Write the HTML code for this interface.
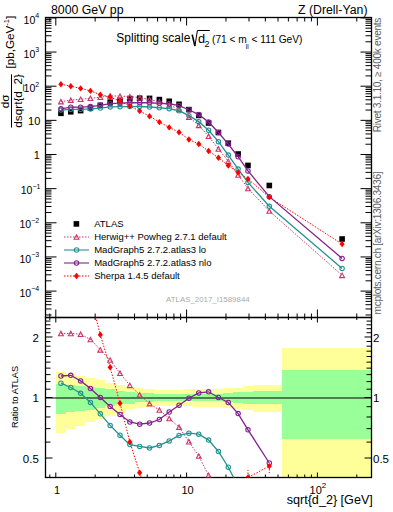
<!DOCTYPE html><html><head><meta charset="utf-8"><style>html,body{margin:0;padding:0;background:#fff;}svg{display:block}</style></head><body>
<svg width="393" height="512" viewBox="0 0 393 512" font-family="'Liberation Sans', sans-serif">
<defs>
<clipPath id="cu"><rect x="45.5" y="17.5" width="326.0" height="300.0"/></clipPath>
<clipPath id="cr"><rect x="45.5" y="317.5" width="326.0" height="160.0"/></clipPath>
</defs>
<rect width="393" height="512" fill="#fff"/>
<g clip-path="url(#cr)"><path d="M55.80,372.34H65.64V432.98H55.80ZM65.64,374.26H75.49V429.26H65.64ZM75.49,375.95H85.33V426.18H75.49ZM85.33,378.37H95.18V422.03H85.33ZM95.18,380.43H105.02V418.74H95.18ZM105.02,382.54H114.86V415.57H105.02ZM114.86,384.54H124.71V412.72H114.86ZM124.71,387.22H134.55V409.16H124.71ZM134.55,388.39H144.40V407.67H134.55ZM144.40,389.18H154.24V406.70H144.40ZM154.24,389.66H164.08V406.12H154.24ZM164.08,389.82H173.93V405.92H164.08ZM173.93,389.74H183.77V406.02H173.93ZM183.77,389.42H193.62V406.41H183.77ZM193.62,389.26H203.46V406.60H193.62ZM203.46,389.10H213.30V406.79H203.46ZM213.30,388.63H223.15V407.38H213.30ZM223.15,388.39H232.99V407.67H223.15ZM232.99,387.61H242.84V408.66H232.99ZM242.84,386.45H252.68V410.16H242.84ZM252.68,384.77H281.80V412.41H252.68ZM281.80,348.25H371.50V502.60H281.80Z" fill="#ffff99" shape-rendering="crispEdges"/><path d="M55.80,383.79H65.64V413.77H55.80ZM65.64,384.92H75.49V412.20H65.64ZM75.49,385.68H85.33V411.17H75.49ZM85.33,386.60H95.18V409.96H85.33ZM95.18,388.15H105.02V407.97H95.18ZM105.02,389.42H114.86V406.41H105.02ZM114.86,391.19H124.71V404.31H114.86ZM124.71,391.59H134.55V403.83H124.71ZM134.55,392.83H144.40V402.44H134.55ZM144.40,393.41H154.24V401.79H144.40ZM154.24,393.74H164.08V401.43H154.24ZM164.08,393.91H173.93V401.25H164.08ZM173.93,393.91H183.77V401.25H173.93ZM183.77,393.82H193.62V401.34H183.77ZM193.62,393.82H203.46V401.34H193.62ZM203.46,393.74H213.30V401.43H203.46ZM213.30,393.74H223.15V401.43H213.30ZM223.15,393.24H232.99V401.98H223.15ZM232.99,392.41H242.84V402.90H232.99ZM242.84,391.59H252.68V403.83H242.84ZM252.68,391.43H281.80V404.02H252.68ZM281.80,369.51H371.50V438.95H281.80Z" fill="#99ff99" shape-rendering="crispEdges"/>
<path d="M45.5,398H371.5" stroke="#000" stroke-width="1"/></g>
<path d="M45.5,314.97h6M371.5,314.97h-6M45.5,308.96h6M371.5,308.96h-6M45.5,304.69h6M371.5,304.69h-6M45.5,301.38h6M371.5,301.38h-6M45.5,298.68h6M371.5,298.68h-6M45.5,296.39h6M371.5,296.39h-6M45.5,294.41h6M371.5,294.41h-6M45.5,292.66h6M371.5,292.66h-6M45.5,291.10h11M371.5,291.10h-11M45.5,280.82h6M371.5,280.82h-6M45.5,274.81h6M371.5,274.81h-6M45.5,270.54h6M371.5,270.54h-6M45.5,267.23h6M371.5,267.23h-6M45.5,264.53h6M371.5,264.53h-6M45.5,262.24h6M371.5,262.24h-6M45.5,260.26h6M371.5,260.26h-6M45.5,258.51h6M371.5,258.51h-6M45.5,256.95h11M371.5,256.95h-11M45.5,246.67h6M371.5,246.67h-6M45.5,240.66h6M371.5,240.66h-6M45.5,236.39h6M371.5,236.39h-6M45.5,233.08h6M371.5,233.08h-6M45.5,230.38h6M371.5,230.38h-6M45.5,228.09h6M371.5,228.09h-6M45.5,226.11h6M371.5,226.11h-6M45.5,224.36h6M371.5,224.36h-6M45.5,222.80h11M371.5,222.80h-11M45.5,212.52h6M371.5,212.52h-6M45.5,206.51h6M371.5,206.51h-6M45.5,202.24h6M371.5,202.24h-6M45.5,198.93h6M371.5,198.93h-6M45.5,196.23h6M371.5,196.23h-6M45.5,193.94h6M371.5,193.94h-6M45.5,191.96h6M371.5,191.96h-6M45.5,190.21h6M371.5,190.21h-6M45.5,188.65h11M371.5,188.65h-11M45.5,178.37h6M371.5,178.37h-6M45.5,172.36h6M371.5,172.36h-6M45.5,168.09h6M371.5,168.09h-6M45.5,164.78h6M371.5,164.78h-6M45.5,162.08h6M371.5,162.08h-6M45.5,159.79h6M371.5,159.79h-6M45.5,157.81h6M371.5,157.81h-6M45.5,156.06h6M371.5,156.06h-6M45.5,154.50h11M371.5,154.50h-11M45.5,144.22h6M371.5,144.22h-6M45.5,138.21h6M371.5,138.21h-6M45.5,133.94h6M371.5,133.94h-6M45.5,130.63h6M371.5,130.63h-6M45.5,127.93h6M371.5,127.93h-6M45.5,125.64h6M371.5,125.64h-6M45.5,123.66h6M371.5,123.66h-6M45.5,121.91h6M371.5,121.91h-6M45.5,120.35h11M371.5,120.35h-11M45.5,110.07h6M371.5,110.07h-6M45.5,104.06h6M371.5,104.06h-6M45.5,99.79h6M371.5,99.79h-6M45.5,96.48h6M371.5,96.48h-6M45.5,93.78h6M371.5,93.78h-6M45.5,91.49h6M371.5,91.49h-6M45.5,89.51h6M371.5,89.51h-6M45.5,87.76h6M371.5,87.76h-6M45.5,86.20h11M371.5,86.20h-11M45.5,75.92h6M371.5,75.92h-6M45.5,69.91h6M371.5,69.91h-6M45.5,65.64h6M371.5,65.64h-6M45.5,62.33h6M371.5,62.33h-6M45.5,59.63h6M371.5,59.63h-6M45.5,57.34h6M371.5,57.34h-6M45.5,55.36h6M371.5,55.36h-6M45.5,53.61h6M371.5,53.61h-6M45.5,52.05h11M371.5,52.05h-11M45.5,41.77h6M371.5,41.77h-6M45.5,35.76h6M371.5,35.76h-6M45.5,31.49h6M371.5,31.49h-6M45.5,28.18h6M371.5,28.18h-6M45.5,25.48h6M371.5,25.48h-6M45.5,23.19h6M371.5,23.19h-6M45.5,21.21h6M371.5,21.21h-6M45.5,19.46h6M371.5,19.46h-6M45.5,17.90h11M371.5,17.90h-11M49.81,17.5v4M49.81,317.5v-4M49.81,317.5v2.5M49.81,477.5v-3M55.80,17.5v8M55.80,317.5v-8M55.80,317.5v5M55.80,477.5v-5M95.17,17.5v4M95.17,317.5v-4M95.17,317.5v2.5M95.17,477.5v-3M118.21,17.5v4M118.21,317.5v-4M118.21,317.5v2.5M118.21,477.5v-3M134.55,17.5v4M134.55,317.5v-4M134.55,317.5v2.5M134.55,477.5v-3M147.23,17.5v4M147.23,317.5v-4M147.23,317.5v2.5M147.23,477.5v-3M157.58,17.5v4M157.58,317.5v-4M157.58,317.5v2.5M157.58,477.5v-3M166.34,17.5v4M166.34,317.5v-4M166.34,317.5v2.5M166.34,477.5v-3M173.92,17.5v4M173.92,317.5v-4M173.92,317.5v2.5M173.92,477.5v-3M180.61,17.5v4M180.61,317.5v-4M180.61,317.5v2.5M180.61,477.5v-3M186.60,17.5v8M186.60,317.5v-8M186.60,317.5v5M186.60,477.5v-5M225.97,17.5v4M225.97,317.5v-4M225.97,317.5v2.5M225.97,477.5v-3M249.01,17.5v4M249.01,317.5v-4M249.01,317.5v2.5M249.01,477.5v-3M265.35,17.5v4M265.35,317.5v-4M265.35,317.5v2.5M265.35,477.5v-3M278.03,17.5v4M278.03,317.5v-4M278.03,317.5v2.5M278.03,477.5v-3M288.38,17.5v4M288.38,317.5v-4M288.38,317.5v2.5M288.38,477.5v-3M297.14,17.5v4M297.14,317.5v-4M297.14,317.5v2.5M297.14,477.5v-3M304.72,17.5v4M304.72,317.5v-4M304.72,317.5v2.5M304.72,477.5v-3M311.41,17.5v4M311.41,317.5v-4M311.41,317.5v2.5M311.41,477.5v-3M317.40,17.5v8M317.40,317.5v-8M317.40,317.5v5M317.40,477.5v-5M356.77,17.5v4M356.77,317.5v-4M356.77,317.5v2.5M356.77,477.5v-3M45.5,477.49h5M371.5,477.49h-5M45.5,458.01h7M371.5,458.01h-7M45.5,442.09h5M371.5,442.09h-5M45.5,428.64h5M371.5,428.64h-5M45.5,416.98h5M371.5,416.98h-5M45.5,406.70h5M371.5,406.70h-5M45.5,397.50h7M371.5,397.50h-7M45.5,389.18h5M371.5,389.18h-5M45.5,381.58h5M371.5,381.58h-5M45.5,374.60h5M371.5,374.60h-5M45.5,368.13h5M371.5,368.13h-5M45.5,362.11h5M371.5,362.11h-5M45.5,356.47h5M371.5,356.47h-5M45.5,351.18h5M371.5,351.18h-5M45.5,346.19h5M371.5,346.19h-5M45.5,341.47h5M371.5,341.47h-5M45.5,336.99h7M371.5,336.99h-7M45.5,332.73h5M371.5,332.73h-5M45.5,328.67h5M371.5,328.67h-5M45.5,324.79h5M371.5,324.79h-5M45.5,321.08h5M371.5,321.08h-5M45.5,317.51h5M371.5,317.51h-5" stroke="#000" stroke-width="1" fill="none"/>
<rect x="45.5" y="17.5" width="326.0" height="300.0" fill="none" stroke="#000" stroke-width="1.3"/>
<rect x="45.5" y="317.5" width="326.0" height="160.0" fill="none" stroke="#000" stroke-width="1.3"/>
<g clip-path="url(#cu)">
<rect x="58.13" y="110.50" width="5.6" height="5.6" fill="#000"/>
<rect x="67.97" y="109.00" width="5.6" height="5.6" fill="#000"/>
<rect x="77.82" y="107.80" width="5.6" height="5.6" fill="#000"/>
<rect x="87.66" y="105.30" width="5.6" height="5.6" fill="#000"/>
<rect x="97.51" y="102.50" width="5.6" height="5.6" fill="#000"/>
<rect x="107.35" y="99.40" width="5.6" height="5.6" fill="#000"/>
<rect x="117.19" y="97.50" width="5.6" height="5.6" fill="#000"/>
<rect x="127.04" y="95.80" width="5.6" height="5.6" fill="#000"/>
<rect x="136.88" y="95.40" width="5.6" height="5.6" fill="#000"/>
<rect x="146.73" y="95.60" width="5.6" height="5.6" fill="#000"/>
<rect x="156.57" y="96.80" width="5.6" height="5.6" fill="#000"/>
<rect x="166.41" y="98.50" width="5.6" height="5.6" fill="#000"/>
<rect x="176.26" y="101.50" width="5.6" height="5.6" fill="#000"/>
<rect x="186.10" y="106.80" width="5.6" height="5.6" fill="#000"/>
<rect x="195.95" y="112.60" width="5.6" height="5.6" fill="#000"/>
<rect x="205.79" y="120.20" width="5.6" height="5.6" fill="#000"/>
<rect x="215.63" y="129.70" width="5.6" height="5.6" fill="#000"/>
<rect x="225.48" y="140.40" width="5.6" height="5.6" fill="#000"/>
<rect x="235.32" y="151.20" width="5.6" height="5.6" fill="#000"/>
<rect x="245.17" y="162.60" width="5.6" height="5.6" fill="#000"/>
<rect x="266.50" y="182.70" width="5.6" height="5.6" fill="#000"/>
<rect x="339.30" y="236.20" width="5.6" height="5.6" fill="#000"/>
<path d="M60.93,101.61 L70.77,100.11 L80.62,99.25 L90.46,98.25 L100.31,97.20 L110.15,95.83 L119.99,96.17 L129.84,96.53 L139.68,97.74 L149.53,99.44 L159.37,101.72 L169.21,104.87 L179.06,109.33 L188.90,117.11 L198.75,125.34 L208.59,136.22 L218.43,148.90 L228.28,161.30 L238.12,174.90 L247.97,188.50 L269.30,211.00 L342.10,275.30" fill="none" stroke="#cc3366" stroke-width="1" stroke-dasharray="1.5,1.5"/>
<path d="M60.93,84.20 L70.77,86.20 L80.62,88.40 L90.46,90.90 L100.31,94.65 L110.15,97.07 L119.99,101.27 L129.84,106.14 L139.68,110.99 L149.53,116.20 L159.37,122.10 L169.21,127.40 L179.06,132.30 L188.90,139.50 L198.75,144.00 L208.59,151.00 L218.43,157.80 L228.28,165.50 L238.12,172.50 L247.97,178.99 L269.30,197.16 L342.10,244.10" fill="none" stroke="#ff0000" stroke-width="1" stroke-dasharray="1.5,1.5"/>
<path d="M60.93,110.07 L70.77,109.30 L80.62,109.29 L90.46,108.93 L100.31,108.07 L110.15,106.94 L119.99,106.71 L129.84,106.60 L139.68,106.51 L149.53,106.98 L159.37,107.74 L169.21,108.67 L179.06,110.74 L188.90,115.67 L198.75,121.64 L208.59,130.24 L218.43,141.67 L228.28,155.04 L238.12,169.10 L247.97,182.40 L269.30,206.30 L342.10,268.40" fill="none" stroke="#259292" stroke-width="1.3"/>
<path d="M60.93,108.85 L70.77,107.23 L80.62,107.18 L90.46,106.57 L100.31,105.28 L110.15,103.71 L119.99,103.17 L129.84,102.76 L139.68,102.74 L149.53,102.73 L159.37,103.34 L169.21,103.76 L179.06,105.61 L188.90,109.72 L198.75,114.62 L208.59,122.03 L218.43,132.50 L228.28,144.05 L238.12,156.74 L247.97,170.89 L269.30,196.63 L342.10,258.40" fill="none" stroke="#82228f" stroke-width="1.3"/>
<path d="M58.53,103.91L60.93,99.41L63.33,103.91Z" fill="none" stroke="#cc3366" stroke-width="1.1" stroke-linejoin="miter"/>
<path d="M68.37,102.41L70.77,97.91L73.17,102.41Z" fill="none" stroke="#cc3366" stroke-width="1.1" stroke-linejoin="miter"/>
<path d="M78.22,101.55L80.62,97.05L83.02,101.55Z" fill="none" stroke="#cc3366" stroke-width="1.1" stroke-linejoin="miter"/>
<path d="M88.06,100.55L90.46,96.05L92.86,100.55Z" fill="none" stroke="#cc3366" stroke-width="1.1" stroke-linejoin="miter"/>
<path d="M97.91,99.50L100.31,95.00L102.71,99.50Z" fill="none" stroke="#cc3366" stroke-width="1.1" stroke-linejoin="miter"/>
<path d="M107.75,98.13L110.15,93.63L112.55,98.13Z" fill="none" stroke="#cc3366" stroke-width="1.1" stroke-linejoin="miter"/>
<path d="M117.59,98.47L119.99,93.97L122.39,98.47Z" fill="none" stroke="#cc3366" stroke-width="1.1" stroke-linejoin="miter"/>
<path d="M127.44,98.83L129.84,94.33L132.24,98.83Z" fill="none" stroke="#cc3366" stroke-width="1.1" stroke-linejoin="miter"/>
<path d="M137.28,100.04L139.68,95.54L142.08,100.04Z" fill="none" stroke="#cc3366" stroke-width="1.1" stroke-linejoin="miter"/>
<path d="M147.13,101.74L149.53,97.24L151.93,101.74Z" fill="none" stroke="#cc3366" stroke-width="1.1" stroke-linejoin="miter"/>
<path d="M156.97,104.02L159.37,99.52L161.77,104.02Z" fill="none" stroke="#cc3366" stroke-width="1.1" stroke-linejoin="miter"/>
<path d="M166.81,107.17L169.21,102.67L171.61,107.17Z" fill="none" stroke="#cc3366" stroke-width="1.1" stroke-linejoin="miter"/>
<path d="M176.66,111.63L179.06,107.13L181.46,111.63Z" fill="none" stroke="#cc3366" stroke-width="1.1" stroke-linejoin="miter"/>
<path d="M186.50,119.41L188.90,114.91L191.30,119.41Z" fill="none" stroke="#cc3366" stroke-width="1.1" stroke-linejoin="miter"/>
<path d="M196.35,127.64L198.75,123.14L201.15,127.64Z" fill="none" stroke="#cc3366" stroke-width="1.1" stroke-linejoin="miter"/>
<path d="M206.19,138.52L208.59,134.02L210.99,138.52Z" fill="none" stroke="#cc3366" stroke-width="1.1" stroke-linejoin="miter"/>
<path d="M216.03,151.20L218.43,146.70L220.83,151.20Z" fill="none" stroke="#cc3366" stroke-width="1.1" stroke-linejoin="miter"/>
<path d="M225.88,163.60L228.28,159.10L230.68,163.60Z" fill="none" stroke="#cc3366" stroke-width="1.1" stroke-linejoin="miter"/>
<path d="M235.72,177.20L238.12,172.70L240.52,177.20Z" fill="none" stroke="#cc3366" stroke-width="1.1" stroke-linejoin="miter"/>
<path d="M245.57,190.80L247.97,186.30L250.37,190.80Z" fill="none" stroke="#cc3366" stroke-width="1.1" stroke-linejoin="miter"/>
<path d="M266.90,213.30L269.30,208.80L271.70,213.30Z" fill="none" stroke="#cc3366" stroke-width="1.1" stroke-linejoin="miter"/>
<path d="M339.70,277.60L342.10,273.10L344.50,277.60Z" fill="none" stroke="#cc3366" stroke-width="1.1" stroke-linejoin="miter"/>
<circle cx="60.93" cy="110.07" r="2.2" fill="none" stroke="#259292" stroke-width="1.1"/><circle cx="70.77" cy="109.30" r="2.2" fill="none" stroke="#259292" stroke-width="1.1"/><circle cx="80.62" cy="109.29" r="2.2" fill="none" stroke="#259292" stroke-width="1.1"/><circle cx="90.46" cy="108.93" r="2.2" fill="none" stroke="#259292" stroke-width="1.1"/><circle cx="100.31" cy="108.07" r="2.2" fill="none" stroke="#259292" stroke-width="1.1"/><circle cx="110.15" cy="106.94" r="2.2" fill="none" stroke="#259292" stroke-width="1.1"/><circle cx="119.99" cy="106.71" r="2.2" fill="none" stroke="#259292" stroke-width="1.1"/><circle cx="129.84" cy="106.60" r="2.2" fill="none" stroke="#259292" stroke-width="1.1"/><circle cx="139.68" cy="106.51" r="2.2" fill="none" stroke="#259292" stroke-width="1.1"/><circle cx="149.53" cy="106.98" r="2.2" fill="none" stroke="#259292" stroke-width="1.1"/><circle cx="159.37" cy="107.74" r="2.2" fill="none" stroke="#259292" stroke-width="1.1"/><circle cx="169.21" cy="108.67" r="2.2" fill="none" stroke="#259292" stroke-width="1.1"/><circle cx="179.06" cy="110.74" r="2.2" fill="none" stroke="#259292" stroke-width="1.1"/><circle cx="188.90" cy="115.67" r="2.2" fill="none" stroke="#259292" stroke-width="1.1"/><circle cx="198.75" cy="121.64" r="2.2" fill="none" stroke="#259292" stroke-width="1.1"/><circle cx="208.59" cy="130.24" r="2.2" fill="none" stroke="#259292" stroke-width="1.1"/><circle cx="218.43" cy="141.67" r="2.2" fill="none" stroke="#259292" stroke-width="1.1"/><circle cx="228.28" cy="155.04" r="2.2" fill="none" stroke="#259292" stroke-width="1.1"/><circle cx="238.12" cy="169.10" r="2.2" fill="none" stroke="#259292" stroke-width="1.1"/><circle cx="247.97" cy="182.40" r="2.2" fill="none" stroke="#259292" stroke-width="1.1"/><circle cx="269.30" cy="206.30" r="2.2" fill="none" stroke="#259292" stroke-width="1.1"/><circle cx="342.10" cy="268.40" r="2.2" fill="none" stroke="#259292" stroke-width="1.1"/>
<circle cx="60.93" cy="108.85" r="2.2" fill="none" stroke="#82228f" stroke-width="1.1"/><circle cx="70.77" cy="107.23" r="2.2" fill="none" stroke="#82228f" stroke-width="1.1"/><circle cx="80.62" cy="107.18" r="2.2" fill="none" stroke="#82228f" stroke-width="1.1"/><circle cx="90.46" cy="106.57" r="2.2" fill="none" stroke="#82228f" stroke-width="1.1"/><circle cx="100.31" cy="105.28" r="2.2" fill="none" stroke="#82228f" stroke-width="1.1"/><circle cx="110.15" cy="103.71" r="2.2" fill="none" stroke="#82228f" stroke-width="1.1"/><circle cx="119.99" cy="103.17" r="2.2" fill="none" stroke="#82228f" stroke-width="1.1"/><circle cx="129.84" cy="102.76" r="2.2" fill="none" stroke="#82228f" stroke-width="1.1"/><circle cx="139.68" cy="102.74" r="2.2" fill="none" stroke="#82228f" stroke-width="1.1"/><circle cx="149.53" cy="102.73" r="2.2" fill="none" stroke="#82228f" stroke-width="1.1"/><circle cx="159.37" cy="103.34" r="2.2" fill="none" stroke="#82228f" stroke-width="1.1"/><circle cx="169.21" cy="103.76" r="2.2" fill="none" stroke="#82228f" stroke-width="1.1"/><circle cx="179.06" cy="105.61" r="2.2" fill="none" stroke="#82228f" stroke-width="1.1"/><circle cx="188.90" cy="109.72" r="2.2" fill="none" stroke="#82228f" stroke-width="1.1"/><circle cx="198.75" cy="114.62" r="2.2" fill="none" stroke="#82228f" stroke-width="1.1"/><circle cx="208.59" cy="122.03" r="2.2" fill="none" stroke="#82228f" stroke-width="1.1"/><circle cx="218.43" cy="132.50" r="2.2" fill="none" stroke="#82228f" stroke-width="1.1"/><circle cx="228.28" cy="144.05" r="2.2" fill="none" stroke="#82228f" stroke-width="1.1"/><circle cx="238.12" cy="156.74" r="2.2" fill="none" stroke="#82228f" stroke-width="1.1"/><circle cx="247.97" cy="170.89" r="2.2" fill="none" stroke="#82228f" stroke-width="1.1"/><circle cx="269.30" cy="196.63" r="2.2" fill="none" stroke="#82228f" stroke-width="1.1"/><circle cx="342.10" cy="258.40" r="2.2" fill="none" stroke="#82228f" stroke-width="1.1"/>
<path d="M60.93,81.00L63.53,84.20L60.93,87.40L58.33,84.20Z" fill="#ff0000"/>
<path d="M70.77,83.00L73.37,86.20L70.77,89.40L68.17,86.20Z" fill="#ff0000"/>
<path d="M80.62,85.20L83.22,88.40L80.62,91.60L78.02,88.40Z" fill="#ff0000"/>
<path d="M90.46,87.70L93.06,90.90L90.46,94.10L87.86,90.90Z" fill="#ff0000"/>
<path d="M100.31,91.45L102.91,94.65L100.31,97.85L97.71,94.65Z" fill="#ff0000"/>
<path d="M110.15,93.87L112.75,97.07L110.15,100.27L107.55,97.07Z" fill="#ff0000"/>
<path d="M119.99,98.07L122.59,101.27L119.99,104.47L117.39,101.27Z" fill="#ff0000"/>
<path d="M129.84,102.94L132.44,106.14L129.84,109.34L127.24,106.14Z" fill="#ff0000"/>
<path d="M139.68,107.79L142.28,110.99L139.68,114.19L137.08,110.99Z" fill="#ff0000"/>
<path d="M149.53,113.00L152.13,116.20L149.53,119.40L146.93,116.20Z" fill="#ff0000"/>
<path d="M159.37,118.90L161.97,122.10L159.37,125.30L156.77,122.10Z" fill="#ff0000"/>
<path d="M169.21,124.20L171.81,127.40L169.21,130.60L166.61,127.40Z" fill="#ff0000"/>
<path d="M179.06,129.10L181.66,132.30L179.06,135.50L176.46,132.30Z" fill="#ff0000"/>
<path d="M188.90,136.30L191.50,139.50L188.90,142.70L186.30,139.50Z" fill="#ff0000"/>
<path d="M198.75,140.80L201.35,144.00L198.75,147.20L196.15,144.00Z" fill="#ff0000"/>
<path d="M208.59,147.80L211.19,151.00L208.59,154.20L205.99,151.00Z" fill="#ff0000"/>
<path d="M218.43,154.60L221.03,157.80L218.43,161.00L215.83,157.80Z" fill="#ff0000"/>
<path d="M228.28,162.30L230.88,165.50L228.28,168.70L225.68,165.50Z" fill="#ff0000"/>
<path d="M238.12,169.30L240.72,172.50L238.12,175.70L235.52,172.50Z" fill="#ff0000"/>
<path d="M247.97,175.79L250.57,178.99L247.97,182.19L245.37,178.99Z" fill="#ff0000"/>
<path d="M269.30,193.96L271.90,197.16L269.30,200.36L266.70,197.16Z" fill="#ff0000"/>
<path d="M342.10,240.90L344.70,244.10L342.10,247.30L339.50,244.10Z" fill="#ff0000"/>
</g>
<g clip-path="url(#cr)">
<path d="M60.93,333.40 L70.77,333.40 L80.62,334.20 L90.46,339.50 L100.31,349.80 L110.15,360.00 L119.99,373.20 L129.84,385.30 L139.68,394.80 L149.53,403.60 L159.37,410.00 L169.21,418.50 L179.06,427.10 L188.90,441.70 L198.75,456.00 L208.59,475.30 L218.43,494.03 L228.28,504.03 L238.12,520.51 L247.97,533.46 L269.30,547.59" fill="none" stroke="#cc3366" stroke-width="1" stroke-dasharray="1.5,1.5"/>
<path d="M60.93,230.93 L70.77,251.53 L80.62,270.37 L90.46,296.26 L100.31,334.80 L110.15,367.30 L119.99,403.20 L129.84,441.90 L139.68,472.80 L149.53,502.27 L159.37,529.93 L169.21,551.12 L179.06,562.30 L188.90,573.49 L198.75,565.83 L208.59,562.30 L218.43,546.41 L228.28,528.75 L238.12,506.39 L247.97,477.50 L269.30,466.10" fill="none" stroke="#ff0000" stroke-width="1" stroke-dasharray="1.5,1.5"/>
<path d="M60.93,383.20 L70.77,387.50 L80.62,393.30 L90.46,402.40 L100.31,413.80 L110.15,425.40 L119.99,435.20 L129.84,444.60 L139.68,446.40 L149.53,448.00 L159.37,445.40 L169.21,440.90 L179.06,435.40 L188.90,433.20 L198.75,434.20 L208.59,440.10 L218.43,451.50 L228.28,467.20 L238.12,486.38 L247.97,497.56 L269.30,519.92" fill="none" stroke="#259292" stroke-width="1.3"/>
<path d="M60.93,376.00 L70.77,375.30 L80.62,380.90 L90.46,388.50 L100.31,397.40 L110.15,406.40 L119.99,414.40 L129.84,422.00 L139.68,424.20 L149.53,423.00 L159.37,419.50 L169.21,412.00 L179.06,405.20 L188.90,398.20 L198.75,392.90 L208.59,391.80 L218.43,397.50 L228.28,402.50 L238.12,413.60 L247.97,429.80 L269.30,463.00" fill="none" stroke="#82228f" stroke-width="1.3"/>
<path d="M58.53,335.70L60.93,331.20L63.33,335.70Z" fill="none" stroke="#cc3366" stroke-width="1.1" stroke-linejoin="miter"/>
<path d="M68.37,335.70L70.77,331.20L73.17,335.70Z" fill="none" stroke="#cc3366" stroke-width="1.1" stroke-linejoin="miter"/>
<path d="M78.22,336.50L80.62,332.00L83.02,336.50Z" fill="none" stroke="#cc3366" stroke-width="1.1" stroke-linejoin="miter"/>
<path d="M88.06,341.80L90.46,337.30L92.86,341.80Z" fill="none" stroke="#cc3366" stroke-width="1.1" stroke-linejoin="miter"/>
<path d="M97.91,352.10L100.31,347.60L102.71,352.10Z" fill="none" stroke="#cc3366" stroke-width="1.1" stroke-linejoin="miter"/>
<path d="M107.75,362.30L110.15,357.80L112.55,362.30Z" fill="none" stroke="#cc3366" stroke-width="1.1" stroke-linejoin="miter"/>
<path d="M117.59,375.50L119.99,371.00L122.39,375.50Z" fill="none" stroke="#cc3366" stroke-width="1.1" stroke-linejoin="miter"/>
<path d="M127.44,387.60L129.84,383.10L132.24,387.60Z" fill="none" stroke="#cc3366" stroke-width="1.1" stroke-linejoin="miter"/>
<path d="M137.28,397.10L139.68,392.60L142.08,397.10Z" fill="none" stroke="#cc3366" stroke-width="1.1" stroke-linejoin="miter"/>
<path d="M147.13,405.90L149.53,401.40L151.93,405.90Z" fill="none" stroke="#cc3366" stroke-width="1.1" stroke-linejoin="miter"/>
<path d="M156.97,412.30L159.37,407.80L161.77,412.30Z" fill="none" stroke="#cc3366" stroke-width="1.1" stroke-linejoin="miter"/>
<path d="M166.81,420.80L169.21,416.30L171.61,420.80Z" fill="none" stroke="#cc3366" stroke-width="1.1" stroke-linejoin="miter"/>
<path d="M176.66,429.40L179.06,424.90L181.46,429.40Z" fill="none" stroke="#cc3366" stroke-width="1.1" stroke-linejoin="miter"/>
<path d="M186.50,444.00L188.90,439.50L191.30,444.00Z" fill="none" stroke="#cc3366" stroke-width="1.1" stroke-linejoin="miter"/>
<path d="M196.35,458.30L198.75,453.80L201.15,458.30Z" fill="none" stroke="#cc3366" stroke-width="1.1" stroke-linejoin="miter"/>
<path d="M206.19,477.60L208.59,473.10L210.99,477.60Z" fill="none" stroke="#cc3366" stroke-width="1.1" stroke-linejoin="miter"/>
<circle cx="60.93" cy="383.20" r="2.2" fill="none" stroke="#259292" stroke-width="1.1"/><circle cx="70.77" cy="387.50" r="2.2" fill="none" stroke="#259292" stroke-width="1.1"/><circle cx="80.62" cy="393.30" r="2.2" fill="none" stroke="#259292" stroke-width="1.1"/><circle cx="90.46" cy="402.40" r="2.2" fill="none" stroke="#259292" stroke-width="1.1"/><circle cx="100.31" cy="413.80" r="2.2" fill="none" stroke="#259292" stroke-width="1.1"/><circle cx="110.15" cy="425.40" r="2.2" fill="none" stroke="#259292" stroke-width="1.1"/><circle cx="119.99" cy="435.20" r="2.2" fill="none" stroke="#259292" stroke-width="1.1"/><circle cx="129.84" cy="444.60" r="2.2" fill="none" stroke="#259292" stroke-width="1.1"/><circle cx="139.68" cy="446.40" r="2.2" fill="none" stroke="#259292" stroke-width="1.1"/><circle cx="149.53" cy="448.00" r="2.2" fill="none" stroke="#259292" stroke-width="1.1"/><circle cx="159.37" cy="445.40" r="2.2" fill="none" stroke="#259292" stroke-width="1.1"/><circle cx="169.21" cy="440.90" r="2.2" fill="none" stroke="#259292" stroke-width="1.1"/><circle cx="179.06" cy="435.40" r="2.2" fill="none" stroke="#259292" stroke-width="1.1"/><circle cx="188.90" cy="433.20" r="2.2" fill="none" stroke="#259292" stroke-width="1.1"/><circle cx="198.75" cy="434.20" r="2.2" fill="none" stroke="#259292" stroke-width="1.1"/><circle cx="208.59" cy="440.10" r="2.2" fill="none" stroke="#259292" stroke-width="1.1"/><circle cx="218.43" cy="451.50" r="2.2" fill="none" stroke="#259292" stroke-width="1.1"/><circle cx="228.28" cy="467.20" r="2.2" fill="none" stroke="#259292" stroke-width="1.1"/>
<circle cx="60.93" cy="376.00" r="2.2" fill="none" stroke="#82228f" stroke-width="1.1"/><circle cx="70.77" cy="375.30" r="2.2" fill="none" stroke="#82228f" stroke-width="1.1"/><circle cx="80.62" cy="380.90" r="2.2" fill="none" stroke="#82228f" stroke-width="1.1"/><circle cx="90.46" cy="388.50" r="2.2" fill="none" stroke="#82228f" stroke-width="1.1"/><circle cx="100.31" cy="397.40" r="2.2" fill="none" stroke="#82228f" stroke-width="1.1"/><circle cx="110.15" cy="406.40" r="2.2" fill="none" stroke="#82228f" stroke-width="1.1"/><circle cx="119.99" cy="414.40" r="2.2" fill="none" stroke="#82228f" stroke-width="1.1"/><circle cx="129.84" cy="422.00" r="2.2" fill="none" stroke="#82228f" stroke-width="1.1"/><circle cx="139.68" cy="424.20" r="2.2" fill="none" stroke="#82228f" stroke-width="1.1"/><circle cx="149.53" cy="423.00" r="2.2" fill="none" stroke="#82228f" stroke-width="1.1"/><circle cx="159.37" cy="419.50" r="2.2" fill="none" stroke="#82228f" stroke-width="1.1"/><circle cx="169.21" cy="412.00" r="2.2" fill="none" stroke="#82228f" stroke-width="1.1"/><circle cx="179.06" cy="405.20" r="2.2" fill="none" stroke="#82228f" stroke-width="1.1"/><circle cx="188.90" cy="398.20" r="2.2" fill="none" stroke="#82228f" stroke-width="1.1"/><circle cx="198.75" cy="392.90" r="2.2" fill="none" stroke="#82228f" stroke-width="1.1"/><circle cx="208.59" cy="391.80" r="2.2" fill="none" stroke="#82228f" stroke-width="1.1"/><circle cx="218.43" cy="397.50" r="2.2" fill="none" stroke="#82228f" stroke-width="1.1"/><circle cx="228.28" cy="402.50" r="2.2" fill="none" stroke="#82228f" stroke-width="1.1"/><circle cx="238.12" cy="413.60" r="2.2" fill="none" stroke="#82228f" stroke-width="1.1"/><circle cx="247.97" cy="429.80" r="2.2" fill="none" stroke="#82228f" stroke-width="1.1"/><circle cx="269.30" cy="463.00" r="2.2" fill="none" stroke="#82228f" stroke-width="1.1"/>
<path d="M100.31,331.60L102.91,334.80L100.31,338.00L97.71,334.80Z" fill="#ff0000"/>
<path d="M110.15,364.10L112.75,367.30L110.15,370.50L107.55,367.30Z" fill="#ff0000"/>
<path d="M119.99,400.00L122.59,403.20L119.99,406.40L117.39,403.20Z" fill="#ff0000"/>
<path d="M129.84,438.70L132.44,441.90L129.84,445.10L127.24,441.90Z" fill="#ff0000"/>
<path d="M139.68,469.60L142.28,472.80L139.68,476.00L137.08,472.80Z" fill="#ff0000"/>
<path d="M247.97,474.30L250.57,477.50L247.97,480.70L245.37,477.50Z" fill="#ff0000"/>
<path d="M269.30,462.90L271.90,466.10L269.30,469.30L266.70,466.10Z" fill="#ff0000"/>
<path d="M247.97,477V470M269.30,466V473" stroke="#ff0000" stroke-width="1" stroke-dasharray="1.5,1.5"/>
</g>
<text x="51" y="14.4" font-size="12.3">8000 GeV pp</text>
<text x="367.5" y="14.4" font-size="12.3" text-anchor="end">Z (Drell-Yan)</text>
<text x="39.2" y="296.7" font-size="10.5" text-anchor="end">10<tspan font-size="7" dy="-5.3">−4</tspan></text>
<text x="39.2" y="262.6" font-size="10.5" text-anchor="end">10<tspan font-size="7" dy="-5.3">−3</tspan></text>
<text x="39.2" y="228.4" font-size="10.5" text-anchor="end">10<tspan font-size="7" dy="-5.3">−2</tspan></text>
<text x="40.4" y="194.2" font-size="10.5" text-anchor="end">10<tspan font-size="7" dy="-5.3">−1</tspan></text>
<text x="39.8" y="158.8" font-size="11" text-anchor="end">1</text>
<text x="40.3" y="124.9" font-size="11" text-anchor="end">10</text>
<text x="39.2" y="91.8" font-size="10.5" text-anchor="end">10<tspan font-size="7" dy="-5.3">2</tspan></text>
<text x="39.2" y="57.7" font-size="10.5" text-anchor="end">10<tspan font-size="7" dy="-5.3">3</tspan></text>
<text x="39.2" y="23.5" font-size="10.5" text-anchor="end">10<tspan font-size="7" dy="-5.3">4</tspan></text>
<text x="38.8" y="341.5" font-size="11.5" text-anchor="end">2</text>
<text x="373" y="341.5" font-size="11.5">2</text>
<text x="38.8" y="402.0" font-size="11.5" text-anchor="end">1</text>
<text x="373" y="402.0" font-size="11.5">1</text>
<text x="38.8" y="462.5" font-size="11.5" text-anchor="end">0.5</text>
<text x="373" y="462.5" font-size="11.5">0.5</text>
<text x="57.0" y="494" font-size="11" text-anchor="middle">1</text>
<text x="187.6" y="494" font-size="11" text-anchor="middle">10</text>
<text x="309.6" y="494" font-size="11">10<tspan font-size="8" dy="-6.2">2</tspan></text>
<text x="372.8" y="503.5" font-size="12.6" text-anchor="end">sqrt{d_2} [GeV]</text>
<text x="116.3" y="42.4" font-size="12">Splitting scale</text>
<path d="M192.2,34.6L194.9,46" fill="none" stroke="#000" stroke-width="1.6"/><path d="M194.9,46.2L197.4,30.5H209.8" fill="none" stroke="#000" stroke-width="1"/>
<text x="198.1" y="42.9" font-size="12.8">d</text><text x="204.5" y="46.7" font-size="9">2</text>
<text x="212" y="43" font-size="10.2">(71 &lt; m<tspan font-size="6.5" dx="-1" dy="5.7">ll</tspan><tspan dy="-5.7"> &lt; 111 GeV)</tspan></text>
<g transform="translate(8.9,108.3) rotate(-90)"><text x="0" y="0" font-size="11.8">dσ</text></g>
<path d="M11.5,74.4V127.6" stroke="#000" stroke-width="1"/>
<g transform="translate(21.6,127.8) rotate(-90)"><text x="0" y="0" font-size="11.8">dsqrt{d_2}</text></g>
<g transform="translate(14.2,68.6) rotate(-90)"><text x="0" y="0" font-size="11.7">[pb,GeV<tspan font-size="7.5" dy="-5">-1</tspan><tspan dy="5">]</tspan></text></g>
<g transform="translate(18,428) rotate(-90)"><text x="0" y="0" font-size="9.2">Ratio to ATLAS</text></g>
<g transform="translate(381,132.2) rotate(-90)"><text x="0" y="0" font-size="10.2" fill="#606060" textLength="114.6" lengthAdjust="spacing">Rivet 3.1.10, ≥ 400k events</text></g>
<g transform="translate(381,314.4) rotate(-90)"><text x="0" y="0" font-size="10.2" fill="#606060" textLength="143" lengthAdjust="spacing">mcplots.cern.ch [arXiv:1306.3436]</text></g>
<text x="166" y="302" font-size="7.9" fill="#aaa">ATLAS_2017_I1589844</text>
<rect x="73.60" y="221.10" width="5.6" height="5.6" fill="#000"/>
<path d="M64,237H89" stroke="#cc3366" stroke-width="1" stroke-dasharray="1.5,1.5"/><path d="M74.10,239.30L76.50,234.80L78.90,239.30Z" fill="none" stroke="#cc3366" stroke-width="1.1" stroke-linejoin="miter"/>
<path d="M64,250H89" stroke="#259292" stroke-width="1.1"/><circle cx="76.5" cy="250" r="2.2" fill="none" stroke="#259292" stroke-width="1.1"/>
<path d="M64,263H89" stroke="#82228f" stroke-width="1.1"/><circle cx="76.5" cy="263" r="2.2" fill="none" stroke="#82228f" stroke-width="1.1"/>
<path d="M64,276H89" stroke="#ff0000" stroke-width="1" stroke-dasharray="1.5,1.5"/><path d="M76.50,272.80L79.10,276.00L76.50,279.20L73.90,276.00Z" fill="#ff0000"/>
<text x="94.2" y="226.9" font-size="9.5">ATLAS</text>
<text x="94.2" y="240.0" font-size="9.5">Herwig++ Powheg 2.7.1 default</text>
<text x="94.2" y="253.0" font-size="9.5">MadGraph5 2.7.2.atlas3 lo</text>
<text x="94.2" y="266.0" font-size="9.5">MadGraph5 2.7.2.atlas3 nlo</text>
<text x="94.2" y="279.0" font-size="9.5">Sherpa 1.4.5 default</text>
</svg></body></html>
